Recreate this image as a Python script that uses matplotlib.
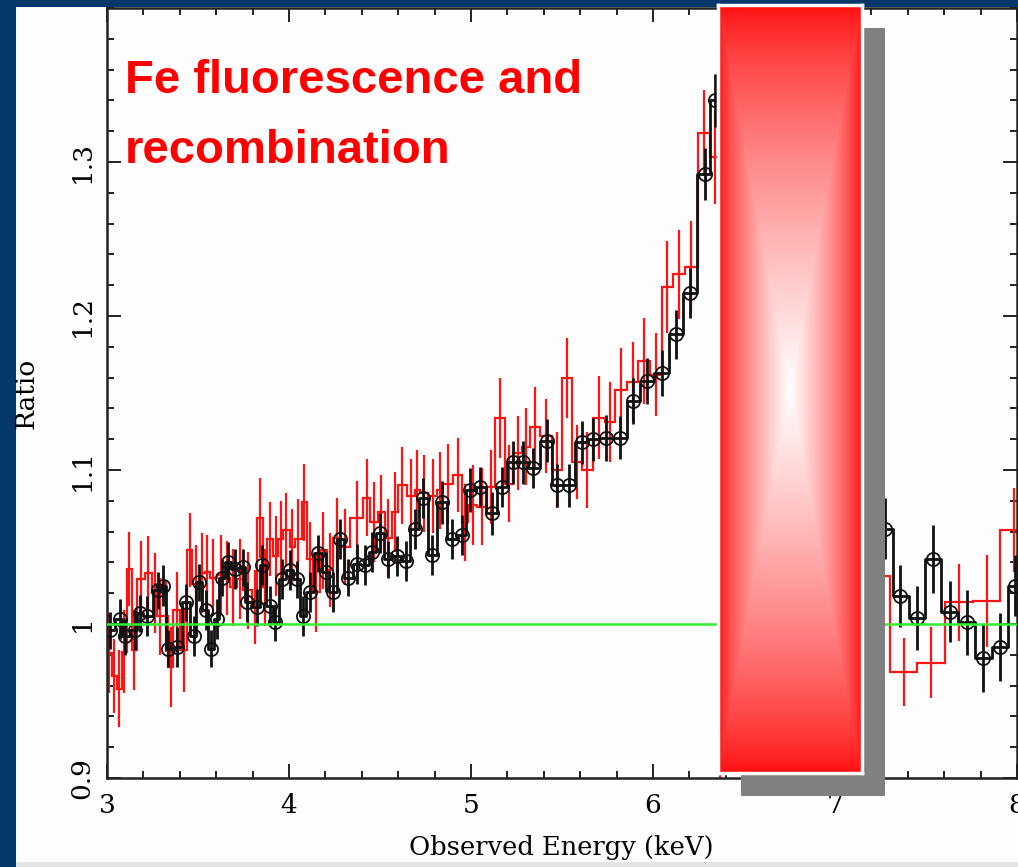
import numpy as np
import matplotlib
matplotlib.use("Agg")
import matplotlib.pyplot as plt
from matplotlib.patches import Rectangle
from matplotlib.ticker import MultipleLocator

# ---------------- data ----------------
black_E = [3.016, 3.071, 3.099, 3.154, 3.181, 3.220, 3.280, 3.308, 3.335, 3.385,
           3.434, 3.478, 3.505, 3.544, 3.571, 3.604, 3.632, 3.665, 3.703, 3.747,
           3.769, 3.824, 3.852, 3.896, 3.923, 3.962, 4.005, 4.044, 4.077, 4.115,
           4.159, 4.203, 4.242, 4.280, 4.324, 4.374, 4.418, 4.456, 4.500, 4.544,
           4.593, 4.643, 4.692, 4.736, 4.786, 4.841, 4.896, 4.951, 4.995, 5.049,
           5.115, 5.170, 5.231, 5.286, 5.341, 5.418, 5.473, 5.538, 5.610, 5.670,
           5.742, 5.819, 5.890, 5.967, 6.049, 6.126, 6.203, 6.286, 6.341]
black_R = [0.996, 1.003, 0.992, 0.996, 1.007, 1.005, 1.022, 1.025, 0.984, 0.985,
           1.014, 0.992, 1.027, 1.009, 0.984, 1.003, 1.030, 1.040, 1.036, 1.037,
           1.014, 1.011, 1.038, 1.012, 1.001, 1.029, 1.035, 1.029, 1.005, 1.021,
           1.046, 1.034, 1.021, 1.055, 1.030, 1.039, 1.038, 1.047, 1.059, 1.042,
           1.044, 1.041, 1.062, 1.082, 1.045, 1.079, 1.055, 1.058, 1.087, 1.089,
           1.072, 1.089, 1.105, 1.105, 1.101, 1.119, 1.090, 1.090, 1.118, 1.120,
           1.121, 1.121, 1.145, 1.158, 1.163, 1.188, 1.215, 1.292, 1.340]
black_err = [0.012, 0.013, 0.012, 0.013, 0.012, 0.013, 0.012, 0.013, 0.012, 0.013,
             0.012, 0.013, 0.012, 0.013, 0.012, 0.013, 0.012, 0.013, 0.013, 0.012,
             0.013, 0.012, 0.013, 0.013, 0.012, 0.013, 0.013, 0.012, 0.013, 0.013,
             0.012, 0.013, 0.013, 0.013, 0.012, 0.013, 0.013, 0.013, 0.013, 0.012,
             0.013, 0.013, 0.013, 0.013, 0.013, 0.014, 0.013, 0.013, 0.014, 0.013,
             0.014, 0.013, 0.014, 0.014, 0.013, 0.014, 0.014, 0.014, 0.014, 0.014,
             0.015, 0.014, 0.015, 0.015, 0.015, 0.016, 0.016, 0.017, 0.017]

black2_E = [7.275, 7.357, 7.451, 7.538, 7.632, 7.725, 7.813, 7.907, 7.989]
black2_R = [1.062, 1.018, 1.004, 1.042, 1.008, 1.001, 0.978, 0.985, 1.025]
black2_err = [0.020, 0.020, 0.021, 0.022, 0.020, 0.021, 0.022, 0.022, 0.020]

red_edges = [3.000, 3.027, 3.055, 3.082, 3.110, 3.137, 3.165, 3.209, 3.247, 3.275,
             3.308, 3.335, 3.363, 3.401, 3.440, 3.467, 3.511, 3.538, 3.566, 3.604,
             3.648, 3.676, 3.714, 3.747, 3.797, 3.824, 3.857, 3.879, 3.912, 3.940,
             3.967, 4.005, 4.033, 4.071, 4.099, 4.132, 4.170, 4.209, 4.242, 4.280,
             4.335, 4.407, 4.445, 4.489, 4.527, 4.566, 4.599, 4.648, 4.692, 4.720,
             4.764, 4.813, 4.846, 4.901, 4.951, 4.984, 5.033, 5.088, 5.132, 5.187,
             5.231, 5.280, 5.324, 5.379, 5.445, 5.500, 5.555, 5.610, 5.670, 5.736,
             5.791, 5.857, 5.918, 5.984, 6.049, 6.110, 6.176, 6.247, 6.313, 6.368]
red_R = [0.981, 0.966, 0.958, 0.982, 1.036, 0.983, 1.029, 1.033, 1.020, 1.005,
         1.005, 0.972, 1.009, 0.983, 1.048, 1.026, 1.033, 1.034, 1.030, 1.032,
         1.030, 1.024, 1.029, 1.022, 1.011, 1.069, 1.024, 1.055, 1.044, 1.055,
         1.061, 1.050, 1.055, 1.079, 1.042, 1.021, 1.048, 1.035, 1.056, 1.050,
         1.069, 1.082, 1.066, 1.073, 1.056, 1.073, 1.090, 1.083, 1.087, 1.085,
         1.083, 1.087, 1.091, 1.097, 1.066, 1.077, 1.076, 1.089, 1.134, 1.091,
         1.111, 1.115, 1.128, 1.122, 1.100, 1.160, 1.105, 1.100, 1.134, 1.131,
         1.152, 1.157, 1.171, 1.162, 1.219, 1.227, 1.232, 1.319, 1.303]
red_err = [0.026, 0.024, 0.025, 0.027, 0.024, 0.026, 0.025, 0.024, 0.026, 0.025,
           0.023, 0.026, 0.025, 0.027, 0.024, 0.025, 0.026, 0.024, 0.025, 0.026,
           0.024, 0.025, 0.026, 0.025, 0.024, 0.026, 0.025, 0.024, 0.026, 0.025,
           0.024, 0.025, 0.026, 0.025, 0.024, 0.026, 0.025, 0.024, 0.026, 0.025,
           0.024, 0.025, 0.026, 0.024, 0.025, 0.026, 0.025, 0.024, 0.026, 0.025,
           0.024, 0.025, 0.026, 0.024, 0.025, 0.026, 0.025, 0.024, 0.026, 0.025,
           0.024, 0.025, 0.026, 0.024, 0.025, 0.026, 0.024, 0.025, 0.027, 0.026,
           0.027, 0.026, 0.028, 0.027, 0.030, 0.029, 0.030, 0.028, 0.030]

red2_edges = [7.148, 7.302, 7.451, 7.604, 7.758, 7.907, 8.055]
red2_R = [1.031, 0.969, 0.975, 1.014, 1.015, 1.061]
red2_err = [0.030, 0.022, 0.023, 0.025, 0.030, 0.027]

xticks = [3, 4, 5, 6, 7, 8]
xticklabels = ["3", "4", "5", "6", "7", "8"]
yticks = [0.9, 1.0, 1.1, 1.2, 1.3]
yticklabels = ["0.9", "1", "1.1", "1.2", "1.3"]

# ---------------- figure ----------------
W, H = 1018, 867
fig = plt.figure(figsize=(W / 100, H / 100), dpi=100)
fig.patch.set_facecolor("#05386a")

def fx(px):
    return px / W

def fy(py):
    return 1 - py / H

# white panel
fig.add_artist(Rectangle((fx(16), fy(862)), fx(1018) - fx(16), fy(7) - fy(862),
                         transform=fig.transFigure, facecolor="#fdfdfd",
                         edgecolor="none", zorder=-2))
fig.add_artist(Rectangle((fx(16), 0), fx(1018) - fx(16), fy(862),
                         transform=fig.transFigure, facecolor="#e4e4e4",
                         edgecolor="none", zorder=-2))

ax = fig.add_axes([fx(107), fy(778), fx(1017) - fx(107), fy(8) - fy(778)])
ax.set_facecolor("none")

serif = "DejaVu Serif"

# red series (behind)
red_edges_a = np.array(red_edges)
red_c = 0.5 * (red_edges_a[:-1] + red_edges_a[1:])
ax.stairs(red_R, red_edges, color="#ff1414", lw=1.6, zorder=2)
ax.errorbar(red_c, red_R, yerr=red_err, fmt="none", ecolor="#ff1414",
            elinewidth=1.6, capsize=0, zorder=2)
red2_a = np.array(red2_edges)
red2_c = 0.5 * (red2_a[:-1] + red2_a[1:])
ax.stairs(red2_R, red2_edges, color="#ff1414", lw=1.6, zorder=2)
ax.errorbar(red2_c, red2_R, yerr=red2_err, fmt="none", ecolor="#ff1414",
            elinewidth=1.6, capsize=0, zorder=2)

# black series
for E, R, err in ((black_E, black_R, black_err), (black2_E, black2_R, black2_err)):
    ax.step(E, R, where="mid", color="#111111", lw=2.0, zorder=3)
    ax.errorbar(E, R, yerr=err, fmt="none", ecolor="#111111",
                elinewidth=2.0, capsize=0, zorder=3)
    ax.plot(E, R, "o", mfc="none", mec="#111111", ms=9.5, mew=1.3, zorder=4)

ax.axhline(1.0, color="#33ee33", lw=1.8, zorder=5)

ax.set_xlim(3, 8)
ax.set_ylim(0.9, 1.4)
ax.set_xticks(xticks)
ax.set_xticklabels(xticklabels, fontsize=19, family=serif)
ax.set_yticks(yticks)
ax.set_yticklabels(yticklabels, fontsize=19, family=serif, rotation=90, va="center")
ax.xaxis.set_minor_locator(MultipleLocator(0.2))
ax.yaxis.set_minor_locator(MultipleLocator(0.02))
ax.tick_params(which="both", direction="in", top=True, right=True,
               color="#222222", width=1.4)
ax.tick_params(which="major", length=10)
ax.tick_params(which="minor", length=5)
ax.tick_params(axis="x", which="major", pad=11)
ax.tick_params(axis="y", which="major", pad=9)
for s in ax.spines.values():
    s.set_linewidth(1.8)
    s.set_color("#222222")

fig.text(fx(561), fy(848), "Observed Energy (keV)", fontsize=18.5, family=serif,
         ha="center", va="center")
fig.text(fx(26), fy(393), "Ratio", fontsize=19, family=serif, rotation=90,
         ha="center", va="center")

# annotation text
fig.text(fx(125), fy(93), "Fe fluorescence and", color="#ff0000", fontsize=34,
         fontweight="bold", family="Liberation Sans", va="baseline", ha="left", zorder=6)
fig.text(fx(125), fy(163), "recombination", color="#ff0000", fontsize=34,
         fontweight="bold", family="Liberation Sans", va="baseline", ha="left", zorder=6)

# shadow
fig.add_artist(Rectangle((fx(741), fy(796)), fx(885) - fx(741), fy(28) - fy(796),
                         transform=fig.transFigure, facecolor="#808080",
                         edgecolor="none", zorder=3))

# gradient box
gax = fig.add_axes([fx(718), fy(773), fx(862) - fx(718), fy(5) - fy(773)])
gax.set_zorder(4)
nx, ny = 144, 768
u = np.linspace(0, 1, nx)
v = np.linspace(0, 1, ny)
dx = 1 - np.abs(2 * u - 1)
dy = 1 - np.abs(2 * v - 1)
t = np.minimum(dx[None, :], dy[:, None])
t = np.clip(t, 0, 1) ** 0.75
img = np.zeros((ny, nx, 3))
img[..., 0] = 1.0
img[..., 1] = 0.05 + 0.95 * t
img[..., 2] = 0.05 + 0.95 * t
gax.imshow(img, aspect="auto", extent=(0, 1, 0, 1), interpolation="bilinear")
gax.set_xticks([])
gax.set_yticks([])
for s in gax.spines.values():
    s.set_color("white")
    s.set_linewidth(2.5)

fig.savefig("out.png", dpi=100, facecolor=fig.get_facecolor())
